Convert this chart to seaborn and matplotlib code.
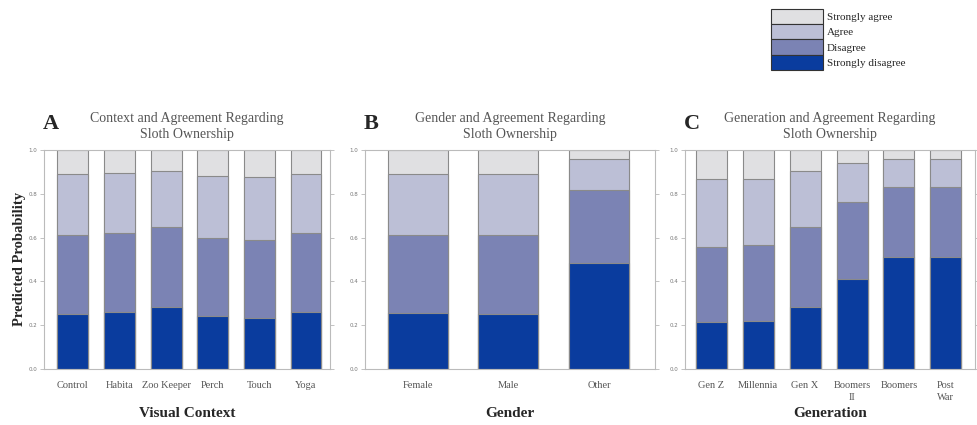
import numpy as np
import pandas as pd
import seaborn as sns
import matplotlib.pyplot as plt
import matplotlib.patches as mpatches

sns.set_style("white")
plt.rcParams['font.family'] = ['Liberation Serif', 'DejaVu Serif']

levels = ['Strongly disagree', 'Disagree', 'Agree', 'Strongly agree']
level_colors = ['#0a3c9e', '#7b83b4', '#bcbfd6', '#e0e0e2']

# panel A: visual context
context_cats = ['Control', 'Habita', 'Zoo Keeper', 'Perch', 'Touch', 'Yoga']
context_sd = [0.252, 0.258, 0.283, 0.240, 0.231, 0.260]
context_d = [0.360, 0.362, 0.366, 0.360, 0.356, 0.362]
context_a = [0.277, 0.274, 0.255, 0.283, 0.291, 0.270]
context_sa = [0.111, 0.106, 0.096, 0.117, 0.122, 0.108]

# panel B: gender
gender_cats = ['Female', 'Male', 'Other']
gender_sd = [0.254, 0.251, 0.486]
gender_d = [0.360, 0.360, 0.332]
gender_a = [0.277, 0.280, 0.139]
gender_sa = [0.109, 0.109, 0.043]

# panel C: generation
gen_cats = ['Gen Z', 'Millennia', 'Gen X', 'Boomers\nII', 'Boomers', 'Post\nWar']
gen_sd = [0.213, 0.217, 0.283, 0.409, 0.509, 0.509]
gen_d = [0.346, 0.350, 0.366, 0.355, 0.321, 0.321]
gen_a = [0.307, 0.302, 0.255, 0.178, 0.129, 0.129]
gen_sa = [0.134, 0.131, 0.096, 0.058, 0.041, 0.041]

panels = [
    ('A', 'Context and Agreement Regarding\nSloth Ownership', 'Visual Context',
     context_cats, [context_sd, context_d, context_a, context_sa], [0.045, 0.293], (-0.62, 5.52)),
    ('B', 'Gender and Agreement Regarding\nSloth Ownership', 'Gender',
     gender_cats, [gender_sd, gender_d, gender_a, gender_sa], [0.3736, 0.297], (-0.58, 2.62)),
    ('C', 'Generation and Agreement Regarding\nSloth Ownership', 'Generation',
     gen_cats, [gen_sd, gen_d, gen_a, gen_sa], [0.701, 0.297], (-0.56, 5.62)),
]

fig = plt.figure(figsize=(9.77, 4.25), dpi=100)

for letter, title, xlabel, cats, series, (left, width), xlim in panels:
    ax = fig.add_axes([left, 0.132, width, 0.515])
    cum = np.cumsum(np.array(series), axis=0)
    # draw from the tallest stack down so each layer sits on top of the last
    for i in range(len(levels) - 1, -1, -1):
        df = pd.DataFrame({'cat': cats, 'val': cum[i]})
        sns.barplot(data=df, x='cat', y='val', color=level_colors[i], width=0.66,
                    edgecolor='#8a8a8a', linewidth=0.8, saturation=1, ax=ax)
    ax.set_ylim(0, 1.0)
    ax.set_xlim(*xlim)
    ax.set_yticks(np.arange(0, 1.01, 0.2))
    ax.set_yticklabels([f"{v:.1f}" for v in np.arange(0, 1.01, 0.2)],
                       fontsize=4, color='#777777', family='DejaVu Sans')
    ax.tick_params(axis='y', which='both', left=True, right=True, direction='out',
                   length=3, width=0.5, color='#aaaaaa', pad=2)
    ax.tick_params(axis='x', length=0, labelsize=7.5, labelcolor='#555555', pad=9)
    for lbl in ax.get_xticklabels():
        lbl.set_linespacing(1.35)
    for s in ax.spines.values():
        s.set_color('#bbbbbb')
        s.set_linewidth(0.8)
    ax.set_xlabel(xlabel, fontsize=11, fontweight='bold')
    ax.xaxis.set_label_coords(0.5, -0.175)
    ax.set_ylabel('')
    ax.set_title(title, fontsize=10, color='#555555', pad=9, linespacing=1.3)
    ax.text(-0.005, 1.075, letter, transform=ax.transAxes, fontsize=16, fontweight='bold',
            ha='left', va='bottom')

fig.text(0.02, 0.39, 'Predicted Probability', rotation=90, fontsize=10.5,
         fontweight='bold', ha='center', va='center')

handles = [mpatches.Patch(facecolor=level_colors[i], edgecolor='#333333', linewidth=0.8,
                          label=levels[i]) for i in range(len(levels) - 1, -1, -1)]
fig.legend(handles=handles, loc='upper left', bbox_to_anchor=(0.785, 0.99), frameon=False,
           fontsize=8, handlelength=4.6, handleheight=1.75, labelspacing=0.0,
           handletextpad=0.4, borderaxespad=0)

fig.savefig('out.png', dpi=100)
